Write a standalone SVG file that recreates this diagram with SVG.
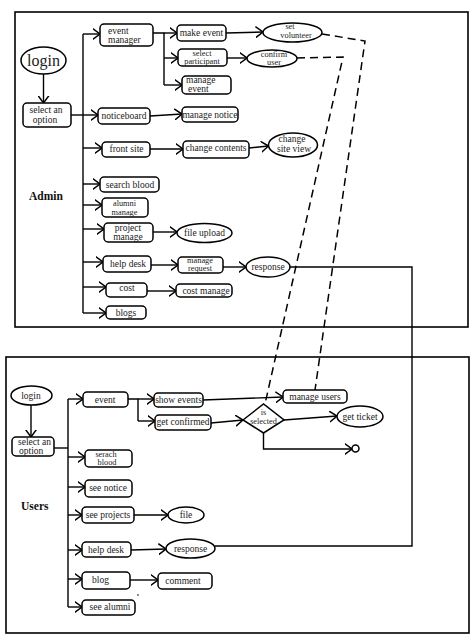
<svg xmlns="http://www.w3.org/2000/svg" width="474" height="640" viewBox="0 0 474 640">
<style>
.frame{fill:none;stroke:#000;stroke-width:1.6}
.box{fill:#fff;stroke:#000;stroke-width:1.5}
.ln{fill:none;stroke:#000;stroke-width:1.4}
.arr{fill:none;stroke:#000;stroke-width:1.4;marker-end:url(#ah)}
.dash{fill:none;stroke:#000;stroke-width:1.5;stroke-dasharray:8,5}
text{font-family:"Liberation Serif","Times New Roman",serif;font-size:9.5px;fill:#222;text-anchor:middle}
.st{text-anchor:start}
.sm{font-size:8.3px}
.big{font-size:16px}
.lbl{font-size:11.5px;font-weight:bold;text-anchor:start;fill:#111}
</style>
<defs>
<marker id="ah" markerUnits="userSpaceOnUse" viewBox="0 0 8 12" refX="7.5" refY="6" markerWidth="8" markerHeight="12" orient="auto">
<path d="M0,0.5 L7.5,6 L0,11.5" fill="none" stroke="#000" stroke-width="1.5"/>
</marker>
</defs>
<rect class="frame" x="15" y="12" width="453" height="315"/>
<rect class="frame" x="6" y="357" width="463" height="276"/>
<g id="connectors">
<polyline class="ln" points="83,34 83,313"/>
<line class="arr" x1="83" y1="34" x2="100" y2="34"/>
<line class="arr" x1="43.5" y1="74" x2="43.5" y2="103"/>
<line class="arr" x1="71" y1="115" x2="98" y2="115"/>
<line class="arr" x1="83" y1="148" x2="102" y2="148"/>
<line class="arr" x1="83" y1="184" x2="100" y2="184"/>
<line class="arr" x1="83" y1="205" x2="102" y2="205"/>
<line class="arr" x1="83" y1="229" x2="104" y2="229"/>
<line class="arr" x1="83" y1="262" x2="103" y2="262"/>
<line class="arr" x1="83" y1="287" x2="106" y2="287"/>
<line class="arr" x1="83" y1="313" x2="106" y2="313"/>
<polyline class="ln" points="153,33 164,33 164,85"/>
<line class="arr" x1="164" y1="33" x2="177" y2="33"/>
<line class="arr" x1="164" y1="58" x2="178" y2="58"/>
<line class="arr" x1="164" y1="85" x2="182" y2="85"/>
<line class="arr" x1="226" y1="33" x2="263" y2="32"/>
<line class="arr" x1="227" y1="58" x2="247" y2="58"/>
<line class="arr" x1="150" y1="116" x2="182" y2="114"/>
<line class="arr" x1="150" y1="149" x2="183" y2="149"/>
<line class="arr" x1="249" y1="148" x2="268.5" y2="146"/>
<line class="arr" x1="153" y1="232" x2="177" y2="232"/>
<line class="arr" x1="151" y1="265" x2="178" y2="265"/>
<line class="arr" x1="223" y1="267" x2="246" y2="267"/>
<line class="arr" x1="147" y1="291" x2="176" y2="291"/>
<polyline class="ln" points="290,267 412,267 412,546 215,546"/>
<polyline class="dash" points="322,34 365,41 315,390"/>
<polyline class="dash" points="297,58 343,57 265,404"/>
<line class="arr" x1="31" y1="405" x2="31" y2="437"/>
<line class="ln" x1="54" y1="448" x2="68" y2="448"/>
<polyline class="ln" points="68,399 68,607"/>
<line class="arr" x1="68" y1="399" x2="83" y2="399"/>
<line class="arr" x1="68" y1="457" x2="85" y2="457"/>
<line class="arr" x1="68" y1="487" x2="85" y2="487"/>
<line class="arr" x1="68" y1="515" x2="82" y2="515"/>
<line class="arr" x1="68" y1="550" x2="82" y2="550"/>
<line class="arr" x1="68" y1="579" x2="82" y2="579"/>
<line class="arr" x1="68" y1="607" x2="82" y2="607"/>
<polyline class="ln" points="128,399 138,399 138,421"/>
<line class="arr" x1="138" y1="399" x2="154" y2="399"/>
<line class="arr" x1="138" y1="421" x2="155" y2="421"/>
<line class="arr" x1="203" y1="400" x2="283" y2="397"/>
<line class="arr" x1="211" y1="423" x2="243" y2="420"/>
<line class="arr" x1="284" y1="420" x2="337" y2="416"/>
<polyline class="arr" points="263.5,433 263.5,449 352,449"/>
<line class="arr" x1="134" y1="515" x2="168" y2="515"/>
<line class="arr" x1="131" y1="550" x2="166" y2="549"/>
<line class="arr" x1="130" y1="580" x2="158" y2="580"/>
</g>
<g id="admin-login"><ellipse class="box" cx="43.5" cy="60.5" rx="22.5" ry="13.5"/><text class="big" x="43.5" y="66">login</text></g>
<g id="admin-select"><rect class="box" x="23" y="103" width="48" height="24" rx="4"/><text x="46" y="113">select an</text><text x="45" y="122.5">option</text></g>
<g id="event-manager"><rect class="box" x="100" y="24" width="53" height="22" rx="4"/><text class="st" x="108" y="33.5">event</text><text class="st" x="108" y="42.5">manager</text></g>
<g id="make-event"><rect class="box" x="177" y="25" width="49" height="16" rx="4"/><text x="201.5" y="36">make event</text></g>
<g id="select-participant"><rect class="box" x="178" y="49" width="49" height="17" rx="4"/><text class="sm" x="202" y="55.5">select</text><text class="sm" x="202" y="64">participant</text></g>
<g id="manage-event"><rect class="box" x="182" y="76" width="49" height="18" rx="4"/><text class="st" x="186" y="82.5">manage</text><text class="st" x="188" y="91.5">event</text></g>
<g id="set-volunteer"><ellipse class="box" cx="292.5" cy="32.5" rx="29.5" ry="9.5"/><text class="sm" x="290" y="29">set</text><text class="sm" x="296" y="38">volunteer</text></g>
<g id="confirm-user"><ellipse class="box" cx="272" cy="58.5" rx="25" ry="8.5"/><text class="sm" x="274" y="56.5">confirm</text><text class="sm" x="274" y="65">user</text></g>
<g id="noticeboard"><rect class="box" x="98" y="108" width="52" height="16" rx="4"/><text x="124" y="119">noticeboard</text></g>
<g id="manage-notice"><rect class="box" x="182" y="107" width="56" height="15" rx="4"/><text x="210" y="117.5">manage notice</text></g>
<g id="front-site"><rect class="box" x="102" y="142" width="48" height="15" rx="4"/><text x="126.5" y="152">front site</text></g>
<g id="change-contents"><rect class="box" x="183" y="141" width="66" height="17" rx="4"/><text x="216" y="150.5">change contents</text></g>
<g id="change-site-view"><ellipse class="box" cx="293" cy="145" rx="24.5" ry="12"/><text x="292" y="142">change</text><text x="294" y="152">site view</text></g>
<g id="search-blood"><rect class="box" x="100" y="177" width="59" height="15" rx="4"/><text x="130" y="187.5">search blood</text></g>
<g id="alumni-manage"><rect class="box" x="102" y="198" width="46" height="19" rx="4"/><text class="sm" x="124.5" y="205.5">alumni</text><text class="sm" x="124.5" y="214.5">manage</text></g>
<g id="project-manage"><rect class="box" x="104" y="223" width="49" height="19" rx="4"/><text x="128" y="230.5">project</text><text x="128" y="240">manage</text></g>
<g id="file-upload"><ellipse class="box" cx="204.5" cy="233" rx="27.5" ry="9.5"/><text x="204.5" y="236">file upload</text></g>
<g id="admin-help-desk"><rect class="box" x="103" y="256" width="48" height="16" rx="4"/><text x="128" y="266.5">help desk</text></g>
<g id="manage-request"><rect class="box" x="178" y="257" width="45" height="16" rx="4"/><text class="sm" x="200" y="263">manage</text><text class="sm" x="200" y="271">request</text></g>
<g id="admin-response"><ellipse class="box" cx="268" cy="267" rx="22" ry="10"/><text x="268" y="270">response</text></g>
<g id="cost"><rect class="box" x="106" y="283" width="41" height="14" rx="4"/><text x="127" y="291">cost</text></g>
<g id="cost-manage"><rect class="box" x="176" y="284" width="56" height="13" rx="4"/><text x="206" y="293.5">cost manage</text></g>
<g id="blogs"><rect class="box" x="106" y="306" width="40" height="13" rx="4"/><text x="126" y="315.5">blogs</text></g>
<g id="admin-label"><text class="lbl" x="29" y="200">Admin</text></g>
<g id="users-login"><ellipse class="box" cx="31.5" cy="395.5" rx="20.5" ry="9.5"/><text x="31" y="399">login</text></g>
<g id="users-select"><rect class="box" x="12" y="437" width="42" height="19" rx="4"/><text class="st" x="18" y="444.5">select an</text><text class="st" x="19" y="453.5">option</text></g>
<g id="event"><rect class="box" x="83" y="392" width="45" height="15" rx="4"/><text x="105" y="402.5">event</text></g>
<g id="show-events"><rect class="box" x="154" y="393" width="49" height="14" rx="4"/><text x="178.5" y="403">show events</text></g>
<g id="get-confirmed"><rect class="box" x="155" y="415" width="56" height="15" rx="4"/><text x="183" y="425">get confirmed</text></g>
<g id="manage-users"><rect class="box" x="283" y="390" width="64" height="13" rx="4"/><text x="315" y="400">manage users</text></g>
<g id="is-selected"><polygon class="box" points="243,420 263.5,404 284,420 263.5,433"/><text class="sm" x="263.5" y="414.5">is</text><text class="sm" x="263.5" y="423.5">selected</text></g>
<g id="get-ticket"><ellipse class="box" cx="360" cy="416.5" rx="23" ry="10.5"/><text x="360" y="419.5">get ticket</text></g>
<g id="end"><circle class="box" cx="355.5" cy="448.5" r="3.5"/></g>
<g id="serach-blood"><rect class="box" x="85" y="450" width="47" height="17" rx="4"/><text class="sm" x="106" y="456.5">serach</text><text class="sm" x="107" y="465">blood</text></g>
<g id="see-notice"><rect class="box" x="85" y="480" width="47" height="17" rx="4"/><text x="108" y="491">see notice</text></g>
<g id="users-label"><text class="lbl" x="21" y="510">Users</text></g>
<g id="see-projects"><rect class="box" x="82" y="507" width="52" height="16" rx="4"/><text x="108" y="517.5">see projects</text></g>
<g id="file"><ellipse class="box" cx="186" cy="515" rx="18" ry="8"/><text x="186" y="518">file</text></g>
<g id="users-help-desk"><rect class="box" x="82" y="542" width="49" height="15" rx="4"/><text x="106" y="552.5">help desk</text></g>
<g id="users-response"><ellipse class="box" cx="190.5" cy="548.5" rx="24.5" ry="9.5"/><text x="190.5" y="552">response</text></g>
<g id="blog"><rect class="box" x="82" y="572" width="48" height="17" rx="4"/><text class="st" x="92" y="582.5">blog</text></g>
<g id="comment"><rect class="box" x="158" y="573" width="54" height="16" rx="4"/><text x="183" y="584">comment</text></g>
<g id="see-alumni"><rect class="box" x="82" y="600" width="53" height="15" rx="4"/><text x="110" y="610">see alumni</text></g>
<circle cx="138" cy="595" r="0.8" fill="#000"/>
</svg>
